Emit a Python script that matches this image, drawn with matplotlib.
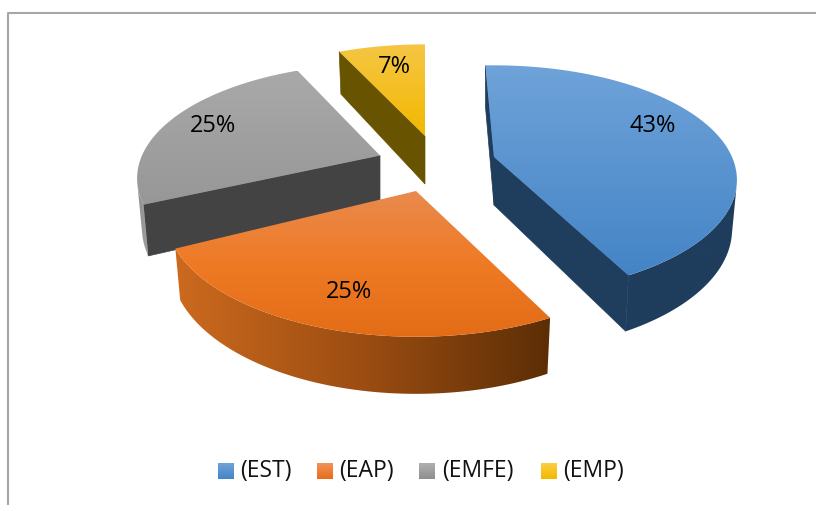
import numpy as np
import matplotlib
matplotlib.use('Agg')
import matplotlib.pyplot as plt
from matplotlib.colors import LinearSegmentedColormap
from matplotlib.patches import Polygon

# Data
labels = ['(EST)', '(EAP)', '(EMFE)', '(EMP)']
shares = [43, 25, 25, 7]

# Colours: top surface gradient, rim (left to right), cut faces
top_colors = [['#6fa3d9', '#4484c6'], ['#e98a4e', '#ef7a24', '#e36c17'],
              ['#a9a9a9', '#979797'], ['#f6c645', '#f2b800']]
rim_colors = [['#1f3d5c', '#1f3d5c'], ['#cc6a1e', '#9c4d12', '#5c2e06'],
              ['#8e8e8e', '#a0a0a0'], ['#675300', '#675300']]
cut_colors = ['#1f3d5c', '#5c2e06', '#434343', '#675300']
legend_colors = [['#6fa3d9', '#4484c6'], ['#f0935c', '#e96c17'],
                 ['#b0b0b0', '#8e8e8e'], ['#fbcf45', '#f2b800']]

# Layout, in pixels of the 816x505 picture
apex_pos = [(494, 157), (416, 191), (380, 155.5), (425, 136)]
angle_nudge = [-2.5, -1.5, 1, 0]
radius_x, radius_y = 238, 110
scale_x = [1, 1.03, 1, 1]
scale_y = [1, 1.06, 1, 1]
persp = 0.2
depth = 48
label_pos = [(653, 126), (349, 292), (213, 126), (394, 67)]
legend_box_x = [218, 317, 419, 541]
legend_text_x = [240, 339, 442, 563]
draw_order = [3, 2, 0, 1]

plt.rcParams['font.family'] = ['Open Sans', 'DejaVu Sans']

fig = plt.figure(figsize=(8.16, 5.05), dpi=100)
ax = fig.add_axes([0, 0, 1, 1])


def project(theta, apex, z, sx, sy):
    # theta in degrees, clockwise from 12 o'clock, z is 0 on top and 1 at the bottom
    u = np.sin(np.radians(theta))
    v = np.cos(np.radians(theta))
    s = 1 / (1 + persp * v)
    k = 1 - 0.02 * z
    return np.column_stack([apex[0] + radius_x * sx * u * s * k,
                            apex[1] - radius_y * sy * v * s * k + depth * s * z])


def signed_area(pts):
    x, y = pts[:, 0], pts[:, 1]
    return 0.5 * np.sum(x * np.roll(y, -1) - np.roll(x, -1) * y)


def gradient_fill(pts, colors, horizontal=False, zorder=1):
    patch = Polygon(pts, closed=True, fc='none', ec='none', zorder=zorder)
    ax.add_patch(patch)
    cmap = LinearSegmentedColormap.from_list('g', colors)
    grad = np.linspace(0, 1, 256).reshape(-1, 1)
    if horizontal:
        grad = grad.T
    x0, y0 = pts.min(axis=0)
    x1, y1 = pts.max(axis=0)
    im = ax.imshow(grad, cmap=cmap, aspect='auto', zorder=zorder,
                   extent=[x0, x1, y1, y0], interpolation='bilinear')
    im.set_clip_path(patch)


bounds = np.concatenate([[0], np.cumsum(shares) / np.sum(shares) * 360])

for i in draw_order:
    start, end = bounds[i] + angle_nudge[i], bounds[i + 1] + angle_nudge[i]
    apex = apex_pos[i]
    thetas = np.append(np.arange(start, end, 0.5), end)
    top = project(thetas, apex, 0, scale_x[i], scale_y[i])
    bottom = project(thetas, apex, 1, scale_x[i], scale_y[i])
    apex_bottom = (apex[0], apex[1] + depth)
    z = 2 * draw_order.index(i) + 1

    # cut faces, only where they face the viewer
    for edge_top, edge_bottom, sign in [(top[0], bottom[0], -1), (top[-1], bottom[-1], 1)]:
        face = np.array([apex, edge_top, edge_bottom, apex_bottom])
        if signed_area(face) * sign > 0:
            ax.add_patch(Polygon(face, closed=True, fc=cut_colors[i], ec=cut_colors[i],
                                 lw=0.5, zorder=z))

    # rim, only the part that faces the viewer
    visible = np.array([signed_area(np.array([top[j], top[j + 1], bottom[j + 1], bottom[j]])) < 0
                        for j in range(len(thetas) - 1)])
    if visible.any():
        idx = np.flatnonzero(visible)
        a, b = idx[0], idx[-1] + 1
        rim = np.vstack([top[a:b + 1], bottom[a:b + 1][::-1]])
        gradient_fill(rim, rim_colors[i], horizontal=True, zorder=z)

    # top surface
    gradient_fill(np.vstack([[apex], top]), top_colors[i], zorder=z + 1)

for i, share in enumerate(shares):
    ax.text(label_pos[i][0], label_pos[i][1], f'{share}%', fontsize=17, color='black',
            ha='center', va='center', zorder=20)

# legend
for i, label in enumerate(labels):
    x = legend_box_x[i]
    box = np.array([[x, 463], [x + 16, 463], [x + 16, 479], [x, 479]], dtype=float)
    gradient_fill(box, legend_colors[i], zorder=20)
    ax.text(legend_text_x[i], 471, label, fontsize=16.5, color='#111111',
            ha='left', va='center', zorder=20)

# chart frame
ax.plot([8, 8, 816], [505, 13, 13], color='#a6a6a6', lw=1.5, zorder=0)

ax.set_xlim(0, 816)
ax.set_ylim(505, 0)
ax.axis('off')

fig.savefig('out.png', dpi=100, facecolor='white')
